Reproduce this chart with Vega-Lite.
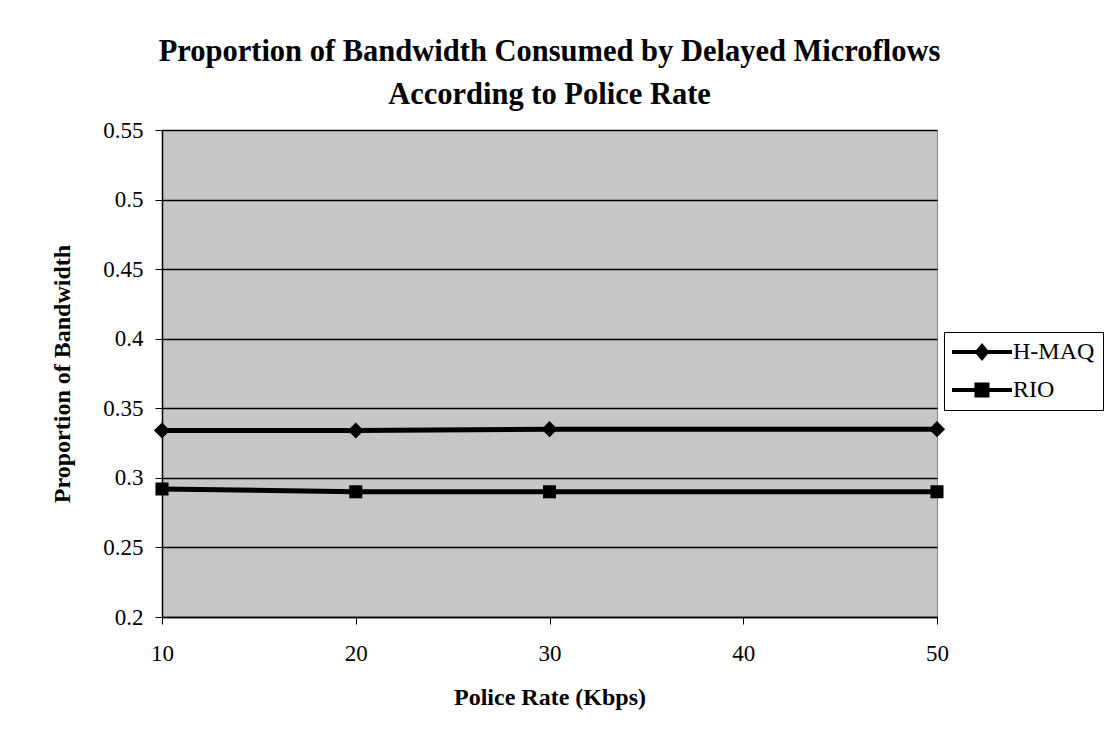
{
  "$schema": "https://vega.github.io/schema/vega-lite/v6.json",
  "width": 775,
  "height": 487,
  "autosize": {"type": "none"},
  "padding": {"left": 162, "top": 130, "right": 175, "bottom": 112},
  "background": "white",
  "title": {
    "text": ["Proportion of Bandwidth Consumed by Delayed Microflows", "According to Police Rate"],
    "font": "Liberation Serif",
    "fontSize": 30.5,
    "fontWeight": "bold",
    "color": "black",
    "lineHeight": 43,
    "offset": 9,
    "anchor": "middle",
    "frame": "group"
  },
  "data": {
    "values": [
      {"rate": 10, "value": 0.334, "series": "H-MAQ"},
      {"rate": 20, "value": 0.334, "series": "H-MAQ"},
      {"rate": 30, "value": 0.335, "series": "H-MAQ"},
      {"rate": 50, "value": 0.335, "series": "H-MAQ"},
      {"rate": 10, "value": 0.292, "series": "RIO"},
      {"rate": 20, "value": 0.290, "series": "RIO"},
      {"rate": 30, "value": 0.290, "series": "RIO"},
      {"rate": 50, "value": 0.290, "series": "RIO"}
    ]
  },
  "encoding": {
    "x": {
      "field": "rate",
      "type": "quantitative",
      "scale": {"domain": [10, 50], "nice": false, "zero": false},
      "axis": {
        "values": [10, 20, 30, 40, 50],
        "format": "d",
        "title": "Police Rate (Kbps)",
        "grid": false,
        "labelFlush": false,
        "tickSize": 7,
        "labelPadding": 18,
        "titlePadding": 20
      }
    },
    "y": {
      "field": "value",
      "type": "quantitative",
      "scale": {"domain": [0.2, 0.55], "nice": false, "zero": false},
      "axis": {
        "values": [0.2, 0.25, 0.3, 0.35, 0.4, 0.45, 0.5, 0.55],
        "format": ".2~f",
        "title": "Proportion of Bandwidth",
        "grid": true,
        "gridColor": "black",
        "gridWidth": 1.5,
        "gridOpacity": 1,
        "labelFlush": false,
        "tickSize": 7,
        "labelPadding": 12,
        "titlePadding": 28
      }
    }
  },
  "layer": [
    {
      "mark": {"type": "line", "color": "black", "strokeWidth": 5},
      "encoding": {"detail": {"field": "series", "type": "nominal"}}
    },
    {
      "transform": [{"filter": "datum.series === 'H-MAQ'"}],
      "mark": {"type": "point", "filled": true, "opacity": 1, "color": "black", "size": 260, "shape": "diamond"}
    },
    {
      "transform": [{"filter": "datum.series === 'RIO'"}],
      "mark": {"type": "point", "filled": true, "opacity": 1, "color": "black", "size": 170, "shape": "square"}
    },
    {
      "transform": [{"filter": "false"}],
      "mark": {"type": "point", "filled": true, "opacity": 1, "color": "black", "size": 400},
      "encoding": {
        "shape": {
          "field": "series",
          "type": "nominal",
          "scale": {
            "domain": ["H-MAQ", "RIO"],
            "range": [
              "M-3,-0.2H3V0.2H-3Z M-0.75,0L0,-0.9L0.75,0L0,0.9Z",
              "M-3,-0.2H3V0.2H-3Z M-0.75,-0.75H0.75V0.75H-0.75Z"
            ]
          },
          "legend": {
            "title": null,
            "orient": "none",
            "legendX": 782,
            "legendY": 202,
            "padding": 8,
            "strokeColor": "black",
            "fillColor": "white",
            "labelFont": "Liberation Serif",
            "labelFontSize": 24,
            "labelColor": "black",
            "rowPadding": 14,
            "labelOffset": 19,
            "symbolOffset": 18,
            "symbolSize": 400,
            "symbolOpacity": 1,
            "symbolFillColor": "black",
            "symbolStrokeWidth": 0
          }
        }
      }
    }
  ],
  "config": {
    "view": {"fill": "#c6c6c6", "stroke": "#888888", "strokeWidth": 1},
    "axis": {
      "domainColor": "black",
      "domainWidth": 1.5,
      "tickColor": "black",
      "labelFont": "Liberation Serif",
      "labelFontSize": 23,
      "labelColor": "black",
      "titleFont": "Liberation Serif",
      "titleFontSize": 24,
      "titleFontWeight": "bold",
      "titleColor": "black"
    }
  }
}
